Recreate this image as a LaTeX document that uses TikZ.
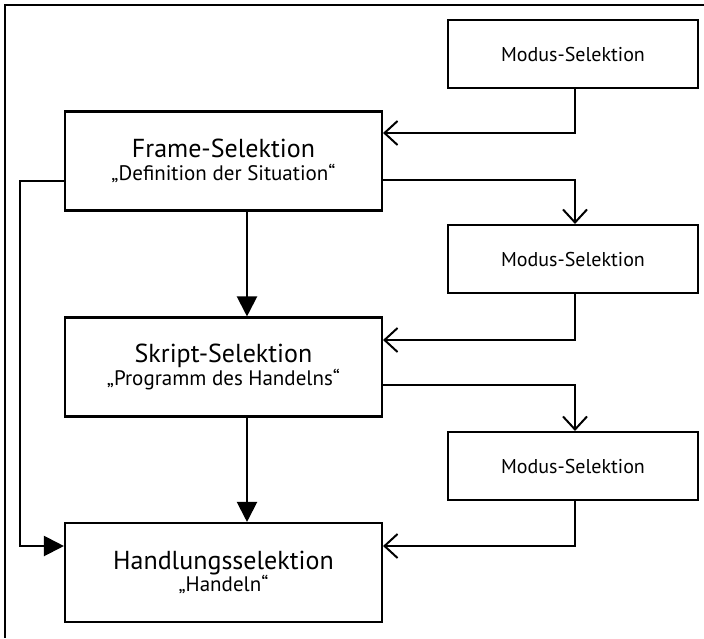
\documentclass[tikz,border=0pt]{standalone}
\usepackage{fontspec}
\setmainfont{PT Sans}
\usetikzlibrary{arrows.meta}
\tikzset{
  box/.style={draw, line width=2.1pt, rectangle, inner sep=0pt, align=center},
  modbox/.style={box, minimum width=250pt, minimum height=68pt, font=\fontsize{20}{22}\selectfont},
  bigbox/.style={box, minimum width=317pt, minimum height=99pt, font=\fontsize{21}{22.5}\selectfont},
  conn/.style={line width=2.1pt},
  openarr/.style={conn, -{Straight Barb[length=13pt,width=24pt,line width=2pt]}},
  fillarr/.style={conn, -{Triangle[length=20pt,width=20pt]}},
}
\newcommand{\ttl}[1]{{\fontsize{26}{26}\selectfont #1}}
\begin{document}
\begin{tikzpicture}[x=1pt,y=-1pt]
\useasboundingbox (0,0) rectangle (704,638);
% outer frame (top and left edges)
\coordinate (ftl) at (5,5);
\coordinate (ftr) at (704,5);
\coordinate (fbl) at (5,638);
\draw[line width=2.6pt] (ftr) -- (ftl) -- (fbl);

\node[modbox] (m1) at (573,54) {Modus-Selektion};
\node[modbox] (m2) at (573,259) {Modus-Selektion};
\node[modbox] (m3) at (573,466) {Modus-Selektion};

\node[bigbox] (fr) at (223.5,161) {\ttl{Frame-Selektion}\\„Definition der Situation“};
\node[bigbox] (sk) at (223.5,367) {\ttl{Skript-Selektion}\\„Programm des Handelns“};
\node[bigbox] (hd) at (223.5,572.5) {\ttl{Handlungsselektion}\\„Handeln“};

\coordinate (lx) at (20,0);
\coordinate (hdin) at ([yshift=26.5pt]hd.west);

% Modus -> selection boxes
\draw[openarr] ([xshift=2pt]m1.south) |- ([yshift=28pt]fr.east);
\draw[openarr] ([xshift=2pt]m2.south) |- ([yshift=27pt]sk.east);
\draw[openarr] ([xshift=2pt]m3.south) |- ([yshift=26.5pt]hd.east);

% selection boxes -> Modus
\draw[openarr] ([yshift=-19pt]fr.east) -| ([xshift=2pt]m2.north);
\draw[openarr] ([yshift=-18pt]sk.east) -| ([xshift=2pt]m3.north);

% vertical flow
\draw[fillarr] ([xshift=23.5pt]fr.south) -- ([xshift=23.5pt]sk.north);
\draw[fillarr] ([xshift=23.5pt]sk.south) -- ([xshift=23.5pt]hd.north);

% left bypass
\draw[fillarr] ([yshift=-20pt]fr.west) -| (lx |- hdin) -- (hdin);
\end{tikzpicture}
\end{document}
